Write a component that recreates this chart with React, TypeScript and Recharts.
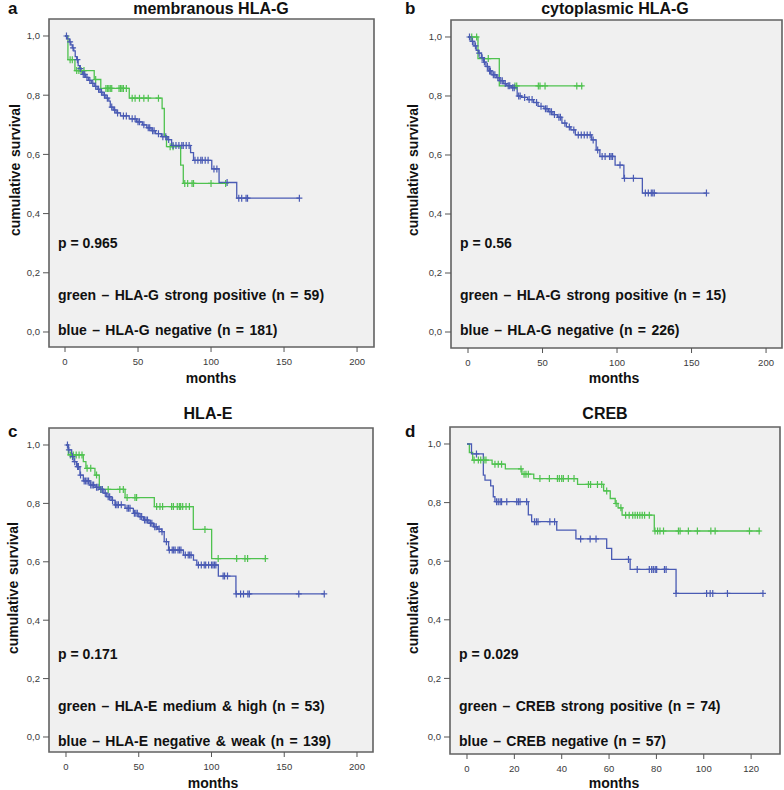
import React from 'react';
import { ComposedChart, Line, Scatter, XAxis, YAxis, ReferenceArea } from 'recharts';

const GREEN = '#4fc24f';
const BLUE = '#4a5bb4';
const FONT = '"Liberation Sans", Arial, Helvetica, sans-serif';
const TICK_FONT = '"Liberation Sans Narrow", "Liberation Sans", Arial, sans-serif';

const survTicks = [0, 0.2, 0.4, 0.6, 0.8, 1.0];
const monthTicks200 = [0, 50, 100, 150, 200];
const monthTicks120 = [0, 20, 40, 60, 80, 100, 120];

// a - membranous HLA-G
const aGreenTime = [0, 2, 6.8, 20, 24.5, 44, 66.5, 68, 69.5, 79.2, 81];
const aGreenSurv = [1, 0.92, 0.883, 0.853, 0.823, 0.79, 0.755, 0.663, 0.626, 0.564, 0.502];
const aGreenEnd = 110;
const aGreenCensor = [3.5, 5, 8, 9.5, 11, 13, 21, 28, 29, 30, 31, 32, 37, 38, 39, 40, 42, 46, 48, 51, 54, 57, 64, 72, 74, 82, 84, 87, 88, 100, 110];
const aBlueTime = [0, 1.5, 3, 4, 5, 6, 7, 8, 9, 10, 11, 12, 14, 16, 18, 20, 22, 24, 26, 28, 30, 31, 33, 35, 38, 44, 49, 53, 56, 59, 62, 66, 70, 73, 86, 88, 100.5, 105.5, 117.6];
const aBlueSurv = [1, 0.99, 0.98, 0.97, 0.96, 0.95, 0.93, 0.92, 0.9, 0.89, 0.88, 0.87, 0.86, 0.85, 0.84, 0.83, 0.82, 0.81, 0.8, 0.79, 0.78, 0.76, 0.75, 0.74, 0.73, 0.72, 0.71, 0.7, 0.69, 0.68, 0.67, 0.66, 0.65, 0.63, 0.606, 0.58, 0.551, 0.505, 0.452];
const aBlueEnd = 160.5;
const aBlueCensor = [1, 3.5, 5.5, 8.5, 10.5, 12.5, 13.5, 15, 17, 19, 21, 23, 25, 27, 29, 32, 34, 36, 40, 42, 46, 48, 50, 51, 54, 57, 58, 60, 61, 64, 67, 69, 71, 74, 76, 78, 80, 81, 83, 85, 89, 91, 93, 94, 96, 98, 102, 104, 111, 119, 121, 124, 125, 160.5];

// b - cytoplasmic HLA-G
const bGreenTime = [0, 6.7, 21];
const bGreenSurv = [1, 0.927, 0.834];
const bGreenEnd = 77;
const bGreenCensor = [2.5, 5.8, 13.6, 31.5, 32.7, 47.2, 48.3, 51.7, 73, 76.3];
const bBlueTime = [0, 2, 4, 5.5, 7, 9, 10.5, 12, 14, 16, 19, 21, 24, 26, 29, 33, 36, 40, 44, 47, 51, 54, 57, 60, 63, 66, 69, 72, 83, 86, 88.5, 98.7, 104.6, 117];
const bBlueSurv = [1, 0.985, 0.97, 0.955, 0.945, 0.93, 0.915, 0.9, 0.885, 0.872, 0.862, 0.852, 0.842, 0.835, 0.828, 0.8, 0.795, 0.788, 0.778, 0.765, 0.757, 0.747, 0.737, 0.728, 0.708, 0.695, 0.685, 0.668, 0.651, 0.617, 0.595, 0.566, 0.521, 0.471];
const bBlueEnd = 160;
const bBlueCensor = [1, 3, 5, 7.5, 9.5, 11, 13, 14.5, 15, 17, 18, 20, 22, 23, 25, 27, 28, 30, 31, 34, 35, 38, 41, 43, 46, 49, 52, 53, 55, 56, 58, 61, 62, 65, 68, 71, 74, 76, 78, 80, 82, 84, 87, 90, 92, 95, 96, 97, 102, 105, 111, 119, 121, 123, 124, 125, 160];

// c - HLA-E
const cGreenTime = [0, 1.6, 11.9, 13.7, 19.9, 22.9, 40.6, 60.7, 87.5, 100.1];
const cGreenSurv = [1, 0.966, 0.943, 0.92, 0.897, 0.848, 0.82, 0.789, 0.711, 0.611];
const cGreenEnd = 137;
const cGreenCensor = [3, 5, 7, 9, 11, 14.5, 17, 21, 24, 29, 37, 39.4, 42, 47.4, 48.5, 62.3, 64.6, 66.4, 72.6, 73.8, 76.5, 77.9, 78.8, 80.2, 82.5, 84.8, 95.5, 104.6, 117.3, 123, 124.8, 137];
const cBlueTime = [0, 1.6, 3.9, 5.5, 7.3, 9.6, 11.9, 16.5, 20, 23.4, 26, 28, 31, 33.7, 40.6, 46.3, 50, 53.2, 57, 60.1, 63, 65.8, 67.5, 70.5, 80.7, 87.6, 89.9, 104.7, 116.8];
const cBlueSurv = [1, 0.983, 0.96, 0.943, 0.926, 0.897, 0.877, 0.863, 0.855, 0.848, 0.835, 0.823, 0.81, 0.795, 0.783, 0.766, 0.755, 0.743, 0.732, 0.72, 0.712, 0.703, 0.669, 0.64, 0.623, 0.606, 0.589, 0.551, 0.49];
const cBlueEnd = 177.5;
const cBlueCensor = [1, 2, 4.5, 6, 8, 8.5, 10, 12.5, 13.5, 14.5, 15.5, 17, 18, 19, 21, 22, 24, 25, 27, 29, 30, 32, 34, 35, 36, 38, 42, 43, 44, 47, 48, 49, 51, 52, 54, 55, 56, 58, 59, 61, 62, 64, 66, 69, 71, 73, 74, 75, 77, 78, 79, 82, 84, 85, 86, 91, 93, 95, 96, 98, 100, 101, 102, 103, 108, 109, 111, 117, 120, 122, 125, 126, 160, 177.5];

// d - CREB
const dGreenTime = [0, 1, 2.4, 10.6, 16.2, 23.2, 28.2, 46.7, 57.7, 60.5, 62.6, 63.8, 65.5, 79.1];
const dGreenSurv = [1, 0.971, 0.945, 0.931, 0.915, 0.897, 0.882, 0.862, 0.84, 0.814, 0.797, 0.782, 0.757, 0.703];
const dGreenEnd = 123.9;
const dGreenCensor = [3, 4.8, 5.8, 7.2, 8, 11.8, 13.2, 14.6, 22.8, 24.1, 24.9, 25.9, 30.8, 34.8, 38.2, 39, 40, 40.7, 42.8, 45.2, 51.3, 52.2, 55.1, 56.9, 59, 63, 65, 67, 68.5, 70, 71, 72, 73, 74, 75, 77, 79.4, 80.5, 81.5, 83, 89.3, 90, 93.5, 97.3, 103, 104.8, 119.3, 123.4];
const dBlueTime = [0, 1.9, 6.9, 7.6, 10, 11.1, 11.8, 25.9, 27.3, 37.9, 46, 59, 61.1, 68.9, 88.3];
const dBlueSurv = [1, 0.966, 0.894, 0.877, 0.857, 0.82, 0.803, 0.758, 0.735, 0.706, 0.676, 0.644, 0.606, 0.572, 0.49];
const dBlueEnd = 125;
const dBlueCensor = [4, 12.5, 13.2, 14, 14.6, 16.8, 21, 21.7, 22.4, 25.2, 28.5, 29.3, 30, 35, 37, 48, 52, 54.5, 68.2, 71.9, 77, 78, 78.7, 79.5, 80.1, 83.4, 84.1, 88.3, 101.2, 102.7, 103.8, 110, 125];

function stepData(times: number[], surv: number[], end: number) {
  const pts = times.map((t, i) => ({ t, s: surv[i] }));
  pts.push({ t: end, s: surv[surv.length - 1] });
  return pts;
}

// censored cases sit on the curve at their time
function censorData(times: number[], surv: number[], censor: number[]) {
  return censor.map(c => {
    let s = surv[0];
    times.forEach((t, i) => { if (t <= c) s = surv[i]; });
    return { t: c, s };
  });
}

const cross = (color: string) => (props: any) => {
  const { cx, cy } = props;
  if (cx == null || cy == null) return <g />;
  return (
    <path
      d={`M${cx - 3},${cy}H${cx + 3}M${cx},${cy - 3.5}V${cy + 3.5}`}
      stroke={color}
      strokeWidth={1.2}
      fill="none"
    />
  );
};

const panels = [
  {
    id: 'a', left: 0, top: 0, plotLeft: 49, plotTop: 19, plotRight: 18, plotBottom: 48,
    xDomain: [-10.96, 211.6], yDomain: [-0.0507, 1.0574], xTicks: monthTicks200,
    green: [aGreenTime, aGreenSurv, aGreenEnd, aGreenCensor], blue: [aBlueTime, aBlueSurv, aBlueEnd, aBlueCensor],
  },
  {
    id: 'b', left: 392, top: 0, plotLeft: 59, plotTop: 20, plotRight: 2, plotBottom: 47,
    xDomain: [-11.41, 210.7], yDomain: [-0.0542, 1.0576], xTicks: monthTicks200,
    green: [bGreenTime, bGreenSurv, bGreenEnd, bGreenCensor], blue: [bBlueTime, bBlueSurv, bBlueEnd, bBlueCensor],
  },
  {
    id: 'c', left: 0, top: 395, plotLeft: 49, plotTop: 33, plotRight: 19, plotBottom: 38,
    xDomain: [-11.68, 211.0], yDomain: [-0.0514, 1.0582], xTicks: monthTicks200,
    green: [cGreenTime, cGreenSurv, cGreenEnd, cGreenCensor], blue: [cBlueTime, cBlueSurv, cBlueEnd, cBlueCensor],
  },
  {
    id: 'd', left: 392, top: 395, plotLeft: 58, plotTop: 32, plotRight: 4, plotBottom: 36,
    xDomain: [-7.18, 132.2], yDomain: [-0.058, 1.058], xTicks: monthTicks120,
    green: [dGreenTime, dGreenSurv, dGreenEnd, dGreenCensor], blue: [dBlueTime, dBlueSurv, dBlueEnd, dBlueCensor],
  },
];

const labels = [
  { letter: 'a', lx: 8, ly: 14, title: 'membranous HLA-G', tx: 211, ty: 14, yx: 20, yy: 170, mx: 211, my: 383, textX: 58, pY: 248, gY: 300, bY: 335,
    p: 'p = 0.965', g: 'green – HLA-G strong positive (n = 59)', b: 'blue – HLA-G negative (n = 181)' },
  { letter: 'b', lx: 405, ly: 14, title: 'cytoplasmic HLA-G', tx: 615, ty: 14, yx: 418, yy: 170, mx: 614, my: 383, textX: 460, pY: 248, gY: 300, bY: 335,
    p: 'p = 0.56', g: 'green – HLA-G strong positive (n = 15)', b: 'blue – HLA-G negative (n = 226)' },
  { letter: 'c', lx: 8, ly: 437, title: 'HLA-E', tx: 208, ty: 419, yx: 18, yy: 588, mx: 213, my: 788, textX: 58, pY: 659, gY: 711, bY: 746,
    p: 'p = 0.171', g: 'green – HLA-E medium & high (n = 53)', b: 'blue – HLA-E negative & weak (n = 139)' },
  { letter: 'd', lx: 405, ly: 437, title: 'CREB', tx: 605, ty: 419, yx: 418, yy: 588, mx: 614, my: 788, textX: 459, pY: 659, gY: 711, bY: 746,
    p: 'p = 0.029', g: 'green – CREB strong positive (n = 74)', b: 'blue – CREB negative (n = 57)' },
];

function KMPanel({ p }: { p: any }) {
  const [gT, gS, gE, gC] = p.green;
  const [bT, bS, bE, bC] = p.blue;
  const tickStyle = { fontSize: 9.5, fill: '#3a3a3a', fontFamily: TICK_FONT };
  return (
    <div style={{ position: 'absolute', left: p.left, top: p.top, width: 392, height: 395 }}>
      <ComposedChart
        width={392}
        height={395}
        margin={{ top: p.plotTop, right: p.plotRight, bottom: p.plotBottom - 30, left: 0 }}
      >
        <XAxis
          type="number"
          dataKey="t"
          domain={p.xDomain}
          ticks={p.xTicks}
          allowDataOverflow
          height={30}
          axisLine={false}
          tickSize={5}
          tickMargin={6}
          tickLine={{ stroke: '#555' }}
          tick={tickStyle}
        />
        <YAxis
          type="number"
          dataKey="s"
          domain={p.yDomain}
          ticks={survTicks}
          allowDataOverflow
          width={p.plotLeft}
          axisLine={false}
          tickSize={6}
          tickMargin={3}
          tickLine={{ stroke: '#555' }}
          tick={tickStyle}
          tickFormatter={(v: number) => v.toFixed(1).replace('.', ',')}
        />
        <ReferenceArea
          x1={p.xDomain[0]}
          x2={p.xDomain[1]}
          y1={p.yDomain[0]}
          y2={p.yDomain[1]}
          fill="#f0f0f0"
          fillOpacity={1}
          stroke="#626262"
          strokeWidth={1.6}
          ifOverflow="visible"
        />
        <Line data={stepData(gT, gS, gE)} dataKey="s" type="stepAfter" stroke={GREEN} strokeWidth={1.3} dot={false} isAnimationActive={false} />
        <Line data={stepData(bT, bS, bE)} dataKey="s" type="stepAfter" stroke={BLUE} strokeWidth={1.3} dot={false} isAnimationActive={false} />
        <Scatter data={censorData(gT, gS, gC)} dataKey="s" shape={cross(GREEN)} isAnimationActive={false} />
        <Scatter data={censorData(bT, bS, bC)} dataKey="s" shape={cross(BLUE)} isAnimationActive={false} />
      </ComposedChart>
    </div>
  );
}

export default function App() {
  return (
    <div style={{ position: 'absolute', left: 0, top: 0, width: 784, height: 790, background: '#fff', fontFamily: FONT }}>
      {panels.map(p => <KMPanel key={p.id} p={p} />)}
      <svg width={784} height={790} style={{ position: 'absolute', left: 0, top: 0, pointerEvents: 'none' }}>
        {labels.map(l => (
          <g key={l.letter} fontFamily={FONT} fontWeight="bold" fill="#111">
            <text x={l.lx} y={l.ly} fontSize={17}>{l.letter}</text>
            <text x={l.tx} y={l.ty} fontSize={16} textAnchor="middle">{l.title}</text>
            <text x={l.yx} y={l.yy} fontSize={14} textAnchor="middle" wordSpacing={2} transform={`rotate(-90 ${l.yx} ${l.yy})`}>cumulative survival</text>
            <text x={l.mx} y={l.my} fontSize={14} textAnchor="middle">months</text>
            <text x={l.textX} y={l.pY} fontSize={14}>{l.p}</text>
            <text x={l.textX} y={l.gY} fontSize={14} wordSpacing={1.5}>{l.g}</text>
            <text x={l.textX} y={l.bY} fontSize={14} wordSpacing={1.5}>{l.b}</text>
          </g>
        ))}
      </svg>
    </div>
  );
}
